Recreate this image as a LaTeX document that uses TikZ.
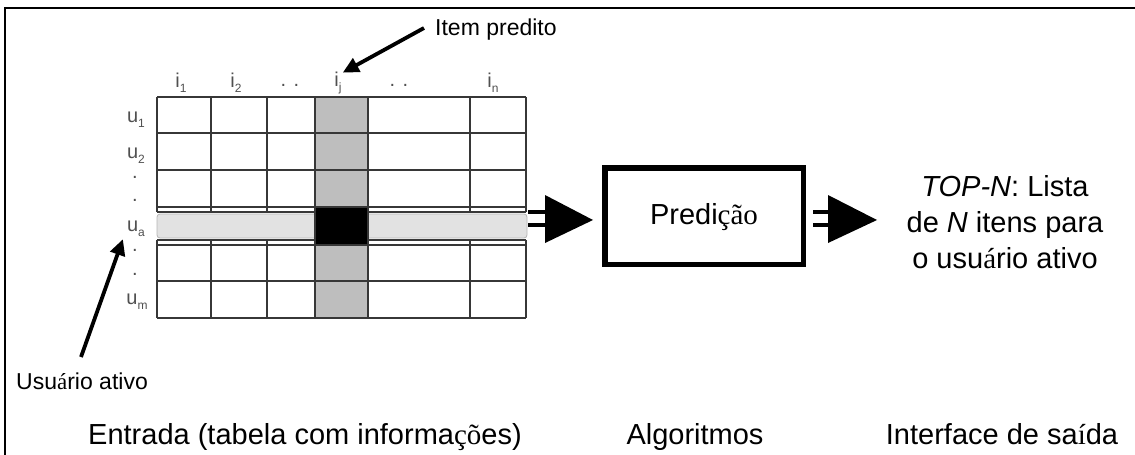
\documentclass[tikz,border=0pt]{standalone}
\usepackage{fontspec}
\setmainfont{Liberation Sans}
\newfontfamily\serifacc{Liberation Serif}
\usetikzlibrary{arrows.meta,calc}

\definecolor{gridline}{RGB}{55,55,55}
\definecolor{colshade}{RGB}{190,190,190}
\definecolor{rowshade}{RGB}{226,226,226}
\definecolor{lblgray}{RGB}{80,80,80}

\newcommand{\sublbl}[2]{#1\raisebox{-0.5ex}{\fontsize{12}{12}\selectfont #2}}

\tikzset{
  big/.style={font=\fontsize{29}{36}\selectfont, inner sep=0pt},
  small/.style={font=\fontsize{23}{26}\selectfont, inner sep=0pt},
  hdr/.style={font=\fontsize{20}{21}\selectfont, text=lblgray, inner sep=0pt},
  gridln/.style={draw=gridline, line width=1.1pt},
  pointer/.style={line width=3.8pt, -{Triangle[length=16pt,width=15pt]}},
  blockhead/.style={fill=black, draw=none},
  procbox/.style={draw, line width=5.5pt, minimum width=198.5pt, minimum height=96.5pt, inner sep=0pt}
}

\begin{document}
\begin{tikzpicture}[x=1pt,y=-1pt]
\useasboundingbox (0,0) rectangle (1135,455);

% open frame: top and left edges
\draw[line width=2.5pt] (5,455) -- (5,8) -- (1135,8);

% ---------- rating matrix ----------
% shaded predicted-item column
\fill[colshade] (315,97) rectangle (368,318);
% horizontal rules
\foreach \y in {97,133,170,207,212,240,245,281,318}
  \draw[gridln] (157,\y) -- (526,\y);
% vertical rules, interrupted by the active-user row
\foreach \x in {157,211,267,315,368,470,526} {
  \draw[gridln] (\x,97) -- (\x,212);
  \draw[gridln] (\x,240) -- (\x,318);
}
% active user row band
\draw[rowshade!80!black, fill=rowshade, line width=0.8pt, rounded corners=3pt]
  (157,214) rectangle (527,238);
% predicted rating cell
\node[fill=black, draw=gridline, line width=1.1pt, minimum width=53pt, minimum height=38pt, inner sep=0pt]
  (cell) at (341.5,226) {};
\coordinate (grid) at (526,219);

% column headers
\node[hdr] (i1) at (181,83) {\sublbl{i}{1}};
\node[hdr] (i2) at (236,83) {\sublbl{i}{2}};
\node[hdr] (d1) at (290,85) {. .};
\node[hdr] (ij) at (338,83) {\sublbl{i}{j}};
\node[hdr] (d2) at (399,85) {. .};
\node[hdr] (in) at (493,83) {\sublbl{i}{n}};

% row headers
\node[hdr] (u1) at (136,120) {\sublbl{u}{1}};
\node[hdr] (u2) at (136,156) {\sublbl{u}{2}};
\node[hdr] (r1) at (135,177) {.};
\node[hdr] (r2) at (135,200) {.};
\node[hdr] (ua) at (136,229) {\sublbl{u}{a}};
\node[hdr] (r3) at (135,250) {.};
\node[hdr] (r4) at (135,274) {.};
\node[hdr] (um) at (137,302) {\sublbl{u}{m}};

% callouts
\node[small, anchor=west] (ip) at (435,30) {Item predito};
\coordinate (iptail) at (424,28);
\draw[pointer] (iptail) -- ($(ij.north east)+(1,1)$);

\node[small, anchor=west] (ua lbl) at (16,381) {Usu{\serifacc á}rio ativo};
\coordinate (uatail) at (81,357);
\draw[pointer] (uatail) -- ($(ua.south west)+(-4,2)$);

% ---------- algorithm box ----------
\node[procbox] (pred) at (704,216) {};
\node[big] (predtxt) at (704,217) {Predi{\serifacc ção}};

% ---------- output text ----------
\node[big, align=center] (out) at (1005,222)
  {\textit{TOP-N}: Lista\\de \textit{N} itens para\\o usu{\serifacc á}rio ativo};

% ---------- block arrows ----------
\coordinate (a1) at ($(grid)+(2,0)$);
\fill[blockhead] ($(a1)+(0,-9)$) rectangle ($(a1)+(17,-5)$);
\fill[blockhead] ($(a1)+(0,4)$) rectangle ($(a1)+(17,8)$);
\fill[blockhead] ($(a1)+(17,-24)$) -- ($(pred.west |- a1)+(-9,1)$) -- ($(a1)+(17,24)$) -- cycle;

\coordinate (a2) at ($(pred.east |- a1)+(7,0)$);
\fill[blockhead] ($(a2)+(0,-9)$) rectangle ($(a2)+(15,-5)$);
\fill[blockhead] ($(a2)+(0,4)$) rectangle ($(a2)+(15,8)$);
\fill[blockhead] ($(a2)+(15,-24)$) -- ($(a2)+(64,1)$) -- ($(a2)+(15,24)$) -- cycle;

% ---------- section captions ----------
\node[big, anchor=base west] (cap1) at (88,444) {Entrada (tabela com informa{\serifacc çõ}es)};
\node[big, anchor=base] (cap2) at (695,444) {Algoritmos};
\node[big, anchor=base] (cap3) at (1002,444) {Interface de sa{\serifacc í}da};
\end{tikzpicture}
\end{document}
